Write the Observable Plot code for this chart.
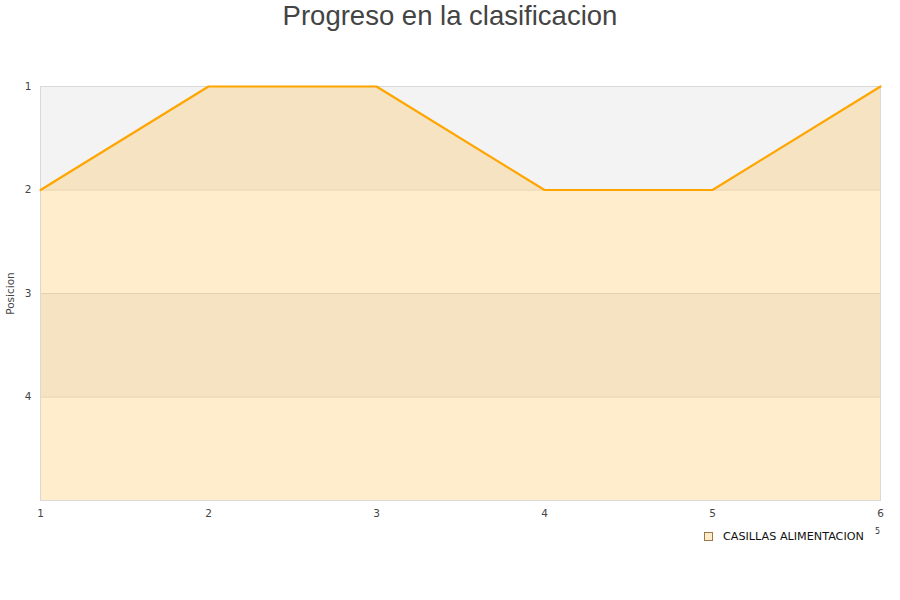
<!DOCTYPE html>
<html>
<head>
<meta charset="utf-8">
<script src="https://cdn.jsdelivr.net/npm/d3@7"></script>
<script src="https://cdn.jsdelivr.net/npm/@observablehq/plot@0.6"></script>
<style>
  html, body { margin: 0; padding: 0; background: #fff; }
  #wrap { position: relative; width: 900px; height: 600px; overflow: hidden; }
  #title { position: absolute; top: 0; left: 0; width: 900px; text-align: center;
    font-family: "Liberation Sans", Arial, sans-serif; font-size: 27.5px; color: #444; line-height: 32px; }
  #chart { position: absolute; top: 0; left: 0; }
  #legend { position: absolute; left: 704px; top: 530px; font-family: "DejaVu Sans", sans-serif;
    font-size: 11.2px; color: #111; display: flex; align-items: center; }
  #legend .sw { width: 7px; height: 7px; border: 1px solid #9a7a4a; background: #ffecca; margin-right: 10px; }
  #legend .stray { font-size: 8px; color: #333; margin-left: 11px; position: relative; top: -5px; }
</style>
</head>
<body>
<div id="wrap">
  <div id="title">Progreso en la clasificacion</div>
  <div id="chart"></div>
  <div id="legend"><div class="sw"></div><span>CASILLAS ALIMENTACION</span><span class="stray">5</span></div>
</div>
<script>
const jornadas = [1, 2, 3, 4, 5, 6];
const posiciones = [2, 1, 1, 2, 2, 1];
const yTicks = [1, 2, 3, 4];
const bandStarts = [1, 3];
const seriesName = "CASILLAS ALIMENTACION";

const data = jornadas.map((j, i) => ({ j, pos: posiciones[i] }));
const bands = bandStarts.map(b => ({ y1: b, y2: b + 1 }));

const chart = Plot.plot({
  width: 900,
  height: 600,
  marginTop: 86,
  marginBottom: 100,
  marginLeft: 40,
  marginRight: 20,
  style: { fontFamily: "DejaVu Sans, sans-serif", fontSize: "10.5px", color: "#444", background: "transparent" },
  x: { domain: [1, 6], ticks: jornadas, tickFormat: d3.format("d"), tickSize: 0, tickPadding: 9, label: null },
  y: { domain: [1, 5], reverse: true, ticks: yTicks, tickFormat: d3.format("d"), tickSize: 0, tickPadding: 9,
       label: "Posicion", labelAnchor: "center", labelArrow: "none", labelOffset: 34 },
  marks: [
    Plot.rect(bands, { y1: "y1", y2: "y2", fill: "#f3f3f3" }),
    Plot.ruleY([2, 3, 4], { stroke: "#dcdcdc", strokeWidth: 1 }),
    Plot.areaY(data, { x: "j", y1: 5, y2: "pos", fill: "#ffa500", fillOpacity: 0.2 }),
    Plot.frame({ stroke: "#d9d9d9" }),
    Plot.line(data, { x: "j", y: "pos", stroke: "#ffa500", strokeWidth: 2.2 })
  ]
});
document.getElementById("chart").appendChild(chart);
</script>
</body>
</html>
